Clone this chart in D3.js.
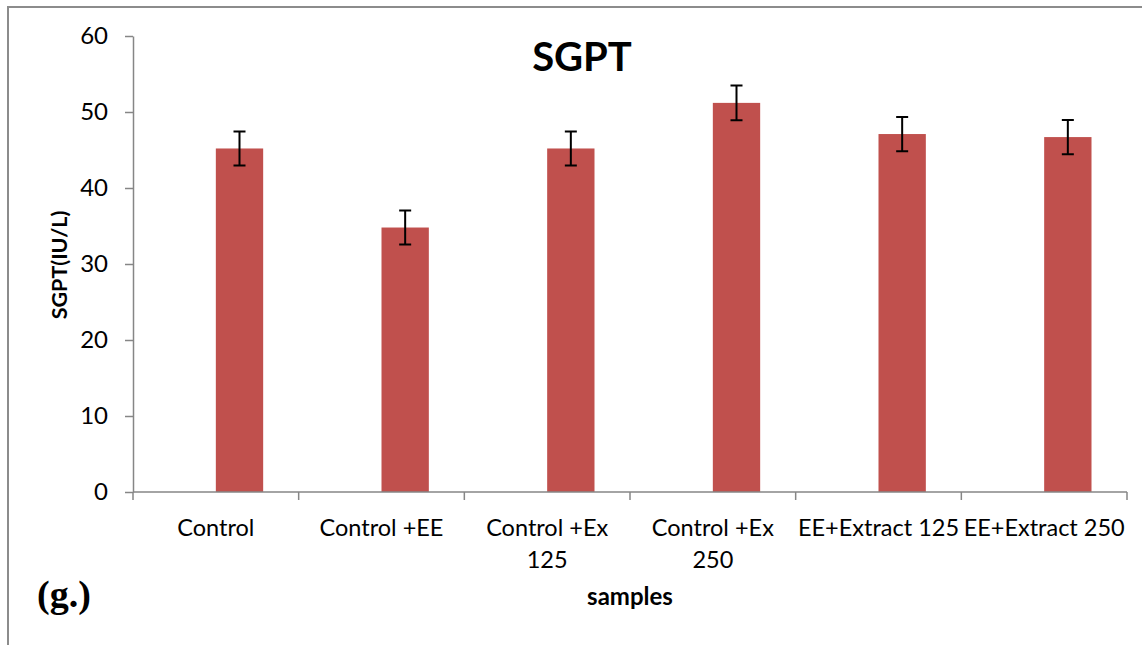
<!DOCTYPE html>
<html>
<head>
<meta charset="utf-8">
<script src="https://cdn.jsdelivr.net/npm/d3@7"></script>
<style>
  body { margin: 0; background: #fff; }
  svg { display: block; }
  text { font-family: Lato, "Open Sans", sans-serif; fill: #000; }
</style>
</head>
<body>
<div id="chart"></div>
<script>
// data
var categories = ["Control", "Control +EE", "Control +Ex 125", "Control +Ex 250", "EE+Extract 125", "EE+Extract 250"];
var tickLabels = [["Control"], ["Control +EE"], ["Control +Ex", "125"], ["Control +Ex", "250"], ["EE+Extract 125"], ["EE+Extract 250"]];
var sgptMean = [45.2, 34.8, 45.2, 51.2, 47.1, 46.7];
var sgptErr = [2.25, 2.25, 2.25, 2.3, 2.25, 2.25];
// excel had a second (empty) series in each cluster, which pushes the bar right
var seriesKeys = ["blank", "SGPT"];
var yTicks = [0, 10, 20, 30, 40, 50, 60];

var W = 1142, H = 645;
var margin = {top: 36, right: 15, bottom: 153, left: 133};

var svg = d3.select("#chart").append("svg")
    .attr("width", W)
    .attr("height", H);

// outer frame (only left and top edges show in the crop)
svg.append("path")
    .attr("d", "M8," + H + "V7H" + W)
    .attr("fill", "none")
    .attr("stroke", "#8c8c8c")
    .attr("stroke-width", 2);

var x = d3.scaleBand()
    .domain(categories)
    .range([margin.left, W - margin.right])
    .padding(0);

var x1 = d3.scaleBand()
    .domain(seriesKeys)
    .range([0, x.bandwidth()])
    .paddingInner(0)
    .paddingOuter(0.75);

var y = d3.scaleLinear()
    .domain([0, 60])
    .range([H - margin.bottom, margin.top]);

// y axis
var yAxis = svg.append("g")
    .attr("transform", "translate(" + margin.left + ",0)")
    .call(d3.axisLeft(y).tickValues(yTicks).tickSize(8).tickPadding(17).tickSizeOuter(0));
yAxis.select(".domain").attr("stroke", "#868686").attr("stroke-width", 1.5);
yAxis.selectAll(".tick line").attr("stroke", "#868686").attr("stroke-width", 1.5);
yAxis.selectAll("text").attr("font-size", 24).attr("font-family", "Lato").attr("fill", "#000");

// bars
svg.append("g").selectAll("rect")
    .data(categories)
    .enter().append("rect")
    .attr("x", function(d) { return x(d) + x1("SGPT"); })
    .attr("y", function(d, i) { return y(sgptMean[i]); })
    .attr("width", x1.bandwidth())
    .attr("height", function(d, i) { return y(0) - y(sgptMean[i]); })
    .attr("fill", "#c0504d");

// error bars
var err = svg.append("g")
    .attr("stroke", "#000")
    .attr("stroke-width", 2)
    .attr("fill", "none");
err.selectAll("path")
    .data(categories)
    .enter().append("path")
    .attr("d", function(d, i) {
        var cx = x(d) + x1("SGPT") + x1.bandwidth() / 2;
        var hi = y(sgptMean[i] + sgptErr[i]), lo = y(sgptMean[i] - sgptErr[i]);
        return "M" + (cx - 6) + "," + hi + "H" + (cx + 6) +
               "M" + cx + "," + hi + "V" + lo +
               "M" + (cx - 6) + "," + lo + "H" + (cx + 6);
    });

// x axis line and boundary ticks
var xg = svg.append("g");
var bounds = categories.map(function(d) { return x(d); }).concat([x.range()[1]]);
xg.append("line")
    .attr("x1", x.range()[0]).attr("x2", x.range()[1])
    .attr("y1", y(0)).attr("y2", y(0))
    .attr("stroke", "#868686").attr("stroke-width", 1.5);
xg.selectAll(".btick")
    .data(bounds)
    .enter().append("line")
    .attr("class", "btick")
    .attr("x1", function(d) { return d; }).attr("x2", function(d) { return d; })
    .attr("y1", y(0)).attr("y2", y(0) + 8)
    .attr("stroke", "#868686").attr("stroke-width", 1.5);

// category labels
var lab = xg.selectAll(".clabel")
    .data(categories)
    .enter().append("text")
    .attr("class", "clabel")
    .attr("text-anchor", "middle")
    .attr("font-size", 23.5)
    .attr("y", 536);
lab.selectAll("tspan")
    .data(function(d, i) { return tickLabels[i].map(function(t) { return {t: t, c: d}; }); })
    .enter().append("tspan")
    .attr("x", function(d) { return x(d.c) + x.bandwidth() / 2; })
    .attr("dy", function(d, j) { return j === 0 ? 0 : 32; })
    .text(function(d) { return d.t; });

// titles
svg.append("text")
    .attr("x", 582).attr("y", 71)
    .attr("text-anchor", "middle")
    .attr("font-size", 40)
    .attr("font-weight", "bold")
    .text("SGPT");

svg.append("text")
    .attr("transform", "translate(67," + 265 + ") rotate(-90)")
    .attr("text-anchor", "middle")
    .attr("font-size", 21.5)
    .attr("font-weight", "bold")
    .text("SGPT(IU/L)");

svg.append("text")
    .attr("x", (x.range()[0] + x.range()[1]) / 2).attr("y", 605)
    .attr("text-anchor", "middle")
    .attr("font-size", 24)
    .attr("font-weight", "bold")
    .text("samples");

svg.append("text")
    .attr("x", 37).attr("y", 607)
    .style("font-family", "'Liberation Serif', serif")
    .attr("font-size", 38)
    .attr("font-weight", "bold")
    .text("(g.)");
</script>
</body>
</html>
